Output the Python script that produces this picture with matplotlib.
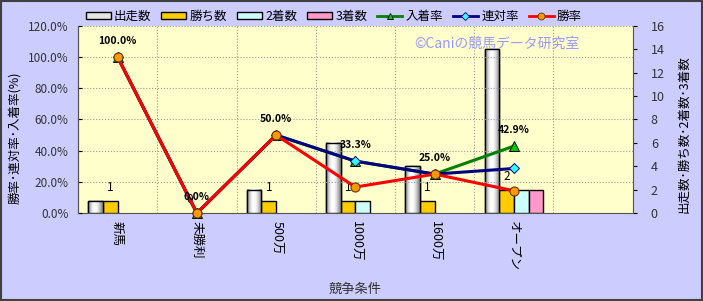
import numpy as np
import matplotlib
matplotlib.use("Agg")
import matplotlib.pyplot as plt
from matplotlib.patches import Rectangle
from matplotlib.lines import Line2D

plt.rcParams['font.family'] = ['Noto Sans CJK JP', 'DejaVu Sans']

categories = ['新馬', '未勝利', '500万', '1000万', '1600万', 'オープン', '']
starts = [1, 0, 2, 6, 4, 14]
wins = [1, 0, 1, 1, 1, 2]
seconds = [0, 0, 0, 1, 0, 2]
thirds = [0, 0, 0, 0, 0, 2]
win_rate = [100.0, 0.0, 50.0, 16.7, 25.0, 14.3]
rentai_rate = [100.0, 0.0, 50.0, 33.3, 25.0, 28.6]
nyuchaku_rate = [100.0, 0.0, 50.0, 33.3, 25.0, 42.9]
left_ticks = [0, 20, 40, 60, 80, 100, 120]
right_ticks = [0, 2, 4, 6, 8, 10, 12, 14, 16]

fig = plt.figure(figsize=(7.03, 3.01), dpi=100)
fig.patch.set_facecolor('#CCCCFF')
fig.patches.append(Rectangle((0.001, 0.003), 0.997, 0.995, transform=fig.transFigure,
                             fill=False, edgecolor='#404040', linewidth=1.5, zorder=100))

axb = fig.add_axes([0.111, 0.292, 0.789, 0.622])
axl = axb.twinx()
axb.set_facecolor('#FFFFCC')
n = len(starts)
x = np.arange(n)
w = 0.185
offs = [-1.5 * w, -0.5 * w, 0.5 * w, 1.5 * w]

b0 = axb.bar(x + offs[0], starts, w, color='#E6E6E6', edgecolor='black', linewidth=1.0, zorder=3)
b1 = axb.bar(x + offs[1], wins, w, color='#FFCC00', edgecolor='black', linewidth=1.0, zorder=3)
b2 = axb.bar(x + offs[2], seconds, w, color='#CCFFFF', edgecolor='black', linewidth=1.0, zorder=3)
b3 = axb.bar(x + offs[3], thirds, w, color='#FF99CC', edgecolor='black', linewidth=1.0, zorder=3)
for cont in (b0, b1, b2, b3):
    for r in cont:
        if r.get_height() <= 0:
            r.set_visible(False)

# silver gradient in the 出走数 bars
grad = np.array([[0.55, 0.75, 0.92, 1.0, 1.0, 0.95, 0.85, 0.7, 0.55]])
for r in b0:
    h = r.get_height()
    if h <= 0:
        continue
    x0 = r.get_x()
    axb.imshow(grad, cmap='gray', vmin=0, vmax=1, aspect='auto',
               extent=(x0, x0 + r.get_width(), 0, h), zorder=3.1, interpolation='bicubic')
    axb.add_patch(Rectangle((x0, 0), r.get_width(), h, fill=False, edgecolor='black',
                            linewidth=1.0, zorder=3.2))

axb.set_xlim(-0.5, len(categories) - 0.5)
axb.set_ylim(0, 16)
axb.yaxis.tick_right()
axb.yaxis.set_label_position('right')
axb.set_yticks(right_ticks)
axb.set_yticklabels([str(t) for t in right_ticks], fontsize=9, color='#333333')
axb.set_ylabel('出走数･勝ち数･2着数･3着数', fontsize=9)
axb.yaxis.set_label_coords(1.081, 0.42)
axb.set_xticks(np.arange(len(categories)))
axb.set_xticklabels(categories, rotation=270, fontsize=9)
axb.tick_params(axis='x', length=0, pad=6)
axb.set_xticks(np.arange(-0.5, len(categories), 1), minor=True)
axb.tick_params(axis='x', which='minor', length=0)
axb.grid(True, which='minor', axis='x', color='#999999', linestyle=':', linewidth=0.8, zorder=0)
axb.set_xlabel('競争条件', fontsize=9.5, color='#333333')
axb.xaxis.set_label_coords(0.5, -0.37)
axb.spines['top'].set_visible(False)
for s in ['left', 'right', 'bottom']:
    axb.spines[s].set_color('#555555')
axb.tick_params(axis='y', direction='out', length=3, pad=10)

for i, v in enumerate(wins):
    axb.annotate(str(v), (x[i] + offs[1], v), xytext=(0, 5), textcoords='offset points',
                 ha='center', va='bottom', fontsize=8.5, zorder=6)

axl.yaxis.tick_left()
axl.yaxis.set_label_position('left')
axl.set_ylim(0, 120)
axl.set_yticks(left_ticks)
axl.set_yticklabels(['%.1f%%' % t for t in left_ticks], fontsize=8.5, color='#333333')
axl.set_ylabel('勝率･連対率･入着率(%)', fontsize=9)
axl.yaxis.set_label_coords(-0.102, 0.4)
axl.grid(True, axis='y', color='#999999', linestyle=':', linewidth=0.8)
axl.set_axisbelow(True)
axl.tick_params(axis='y', direction='in', length=3, pad=7)
for s in ['top', 'right', 'bottom']:
    axl.spines[s].set_visible(False)
axl.spines['left'].set_color('#555555')

axl.plot(x, nyuchaku_rate, color='#008000', linewidth=2.2, marker='^', markersize=7,
         markerfacecolor='#00CC00', markeredgecolor='black', markeredgewidth=0.7, zorder=4, clip_on=False)
axl.plot(x, rentai_rate, color='#000080', linewidth=2.2, marker='D', markersize=5.5,
         markerfacecolor='#33FFFF', markeredgecolor='#000080', markeredgewidth=0.7, zorder=4.1, clip_on=False)
axl.plot(x, win_rate, color='#FF0000', linewidth=2.2, marker='o', markersize=6.5,
         markerfacecolor='#FF9900', markeredgecolor='#663300', markeredgewidth=0.8, zorder=4.2, clip_on=False)

for i, v in enumerate(nyuchaku_rate):
    axl.annotate('%.1f%%' % v, (x[i], v), xytext=(0, 8), textcoords='offset points',
                 ha='center', va='bottom', fontsize=7.5, fontweight='bold', zorder=6)

axl.text(0.755, 0.905, '©Caniの競馬データ研究室', transform=axl.transAxes, ha='center', va='center',
         fontsize=10, color='#9999FF', zorder=7)

handles = [
    Rectangle((0, 0), 1, 1, facecolor='#E6E6E6', edgecolor='black'),
    Rectangle((0, 0), 1, 1, facecolor='#FFCC00', edgecolor='black'),
    Rectangle((0, 0), 1, 1, facecolor='#CCFFFF', edgecolor='black'),
    Rectangle((0, 0), 1, 1, facecolor='#FF99CC', edgecolor='black'),
    Line2D([], [], color='#008000', linewidth=2, marker='^', markersize=5,
           markerfacecolor='#00CC00', markeredgecolor='black', markeredgewidth=0.6),
    Line2D([], [], color='#000080', linewidth=2, marker='D', markersize=4,
           markerfacecolor='#33FFFF', markeredgecolor='#000080', markeredgewidth=0.6),
    Line2D([], [], color='#FF0000', linewidth=2, marker='o', markersize=5,
           markerfacecolor='#FF9900', markeredgecolor='#663300', markeredgewidth=0.6),
]
labels = ['出走数', '勝ち数', '2着数', '3着数', '入着率', '連対率', '勝率']
fig.legend(handles, labels, loc='center left', bbox_to_anchor=(0.115, 0.945), ncol=7,
           frameon=False, fontsize=9, handlelength=2.0, handleheight=0.45,
           handletextpad=0.25, columnspacing=0.8, borderaxespad=0)

fig.savefig('out.png', dpi=100, facecolor=fig.get_facecolor())
